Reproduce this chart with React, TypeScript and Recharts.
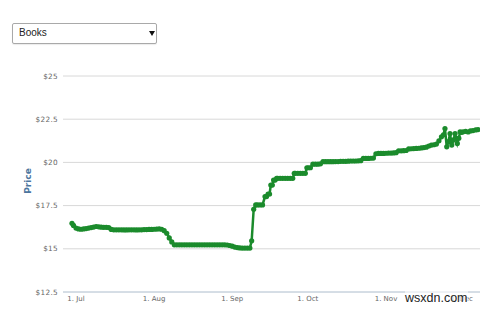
import React from 'react';
import { LineChart, Line, XAxis, YAxis, CartesianGrid } from 'recharts';

// days since 1 Jul
const days: number[] = [
  -1.6, -1, 0, 1, 2, 3, 4, 5, 6, 7, 8, 9, 10, 11, 12, 13, 14, 15, 16, 17, 18, 19, 20, 21, 22, 23, 24, 25, 26, 27, 28, 29, 30,
  31, 32, 33, 34, 35, 36, 37, 38, 39, 40, 41, 42, 43, 44, 45, 46, 47, 48, 49, 50, 51, 52, 53, 54, 55, 56, 57, 58, 59,
  60, 61, 62, 63, 64, 65, 66, 67, 68, 69, 69.7, 70.5, 71.3, 72, 73, 74, 75, 75.6, 76.2, 76.8, 77.3, 77.9, 78.4, 79, 79.6,
  80, 81, 82, 83, 84, 85, 86, 86.6, 87, 88, 89, 90, 91, 91.6, 92.2, 93, 94, 95, 96, 97, 98, 99,
  100, 101, 102, 103, 104, 105, 106, 107, 108, 109, 110, 111, 112, 113, 114, 115, 116, 117, 118, 119,
  120, 121, 122, 123, 124, 125, 126, 127, 128, 129, 130, 131, 132, 133, 134, 135, 136, 137, 138, 139,
  140, 141, 142, 143, 144, 145, 145.8, 146.4, 147.1, 147.8, 148.4, 149.1, 149.8, 150.4, 151.3, 151.9, 152.4,
  153, 153.6, 154.6, 155.6, 156.5, 157.5, 158.6, 159.5,
];

const prices: number[] = [
  16.48, 16.35, 16.2, 16.15, 16.13, 16.15, 16.17, 16.2, 16.23, 16.26, 16.29, 16.27, 16.25, 16.24, 16.24, 16.23, 16.12, 16.1, 16.1, 16.1, 16.1, 16.09, 16.09, 16.1, 16.1, 16.1, 16.09, 16.1, 16.1, 16.11, 16.11, 16.12, 16.12,
  16.13, 16.14, 16.15, 16.13, 16.05, 15.9, 15.63, 15.4, 15.23, 15.23, 15.23, 15.23, 15.23, 15.23, 15.23, 15.23, 15.23, 15.23, 15.23, 15.23, 15.23, 15.23, 15.23, 15.23, 15.23, 15.23, 15.23, 15.23, 15.23,
  15.22, 15.19, 15.15, 15.1, 15.07, 15.05, 15.04, 15.04, 15.04, 15.04, 15.46, 17.29, 17.54, 17.54, 17.54, 17.54, 18.02, 18.02, 18.17, 18.17, 18.69, 18.69, 18.98, 18.98, 19.08,
  19.08, 19.08, 19.08, 19.08, 19.08, 19.08, 19.08, 19.37, 19.37, 19.37, 19.37, 19.37, 19.37, 19.69, 19.69, 19.69, 19.9, 19.9, 19.9, 19.92, 20.04, 20.04,
  20.04, 20.04, 20.04, 20.05, 20.05, 20.06, 20.06, 20.06, 20.07, 20.08, 20.08, 20.08, 20.09, 20.1, 20.23, 20.23, 20.23, 20.24, 20.25, 20.5,
  20.52, 20.52, 20.52, 20.53, 20.54, 20.54, 20.55, 20.56, 20.67, 20.67, 20.68, 20.69, 20.78, 20.79, 20.8, 20.81, 20.82, 20.84, 20.86, 20.88,
  20.95, 21.0, 21.02, 21.06, 21.25, 21.48, 21.6, 21.96, 20.9, 21.2, 21.67, 21.0, 21.3, 21.67, 21.1, 21.4, 21.77,
  21.74, 21.77, 21.8, 21.76, 21.82, 21.84, 21.88, 21.9,
];

const tickDays: number[] = [0, 31, 62, 92, 123, 153];
const tickLabels: string[] = ['1. Jul', '1. Aug', '1. Sep', '1. Oct', '1. Nov', '1. Dec'];
const priceTicks: number[] = [12.5, 15, 17.5, 20, 22.5, 25];

const data = days.map((d, i) => ({ day: d, price: prices[i] }));

const GREEN = '#1b8b2c';
const FONT = '"DejaVu Sans", Verdana, sans-serif';

export default function App() {
  return (
    <div style={{ position: 'absolute', left: 0, top: 0, width: 480, height: 310, background: '#fff', overflow: 'hidden' }}>
      <div
        style={{
          position: 'absolute', left: 12, top: 23, width: 143, height: 19,
          border: '1px solid #a9a9a9', borderRadius: 2, background: '#fff',
          boxShadow: '0 1px 1px rgba(0,0,0,0.08)',
        }}
      >
        <span style={{ position: 'absolute', left: 6, top: 3, fontFamily: '"Liberation Sans", Arial, sans-serif', fontSize: 10, color: '#222' }}>
          Books
        </span>
        <div style={{ position: 'absolute', left: 136, top: 7, width: 0, height: 0, borderLeft: '3px solid transparent', borderRight: '3px solid transparent', borderTop: '5px solid #111' }} />
      </div>
      <LineChart width={480} height={310} data={data} margin={{ top: 76, right: 0, bottom: 0, left: 0 }}>
        <CartesianGrid vertical={false} stroke="#d8d8d8" />
        <XAxis
          dataKey="day"
          type="number"
          domain={[-5.16, 160.3]}
          ticks={tickDays}
          tickFormatter={(v: number) => tickLabels[tickDays.indexOf(v)] ?? ''}
          height={18}
          axisLine={{ stroke: '#c0d0e0' }}
          tickLine={false}
          tickSize={3}
          tickMargin={1}
          interval={0}
          tick={{ fontSize: 7, fill: '#666', fontFamily: FONT }}
        />
        <YAxis
          type="number"
          domain={[12.5, 25]}
          ticks={priceTicks}
          tickFormatter={(v: number) => '$' + v}
          width={63}
          axisLine={false}
          tickLine={false}
          tickSize={0}
          tickMargin={5}
          interval={0}
          tick={{ fontSize: 7.3, fill: '#666', fontFamily: FONT, letterSpacing: 0.3 }}
          label={{
            value: 'Price',
            content: () => (
              <text x={28} y={181} transform="rotate(-90 28 181)" textAnchor="middle" dominantBaseline="central"
                fontFamily={FONT} fontSize={9} fontWeight="bold" fill="#4d759e">Price</text>
            ),
          }}
        />
        <Line
          type="linear"
          dataKey="price"
          stroke={GREEN}
          strokeWidth={2.5}
          dot={{ r: 2.6, fill: GREEN, stroke: GREEN, strokeWidth: 0 }}
          isAnimationActive={false}
        />
      </LineChart>
      <div style={{ position: 'absolute', left: 405, top: 291, fontFamily: '"Liberation Sans", Arial, sans-serif', fontSize: 12.5, color: '#222', background: 'rgba(255,255,255,0.6)', lineHeight: '14px' }}>
        wsxdn.com
      </div>
    </div>
  );
}
